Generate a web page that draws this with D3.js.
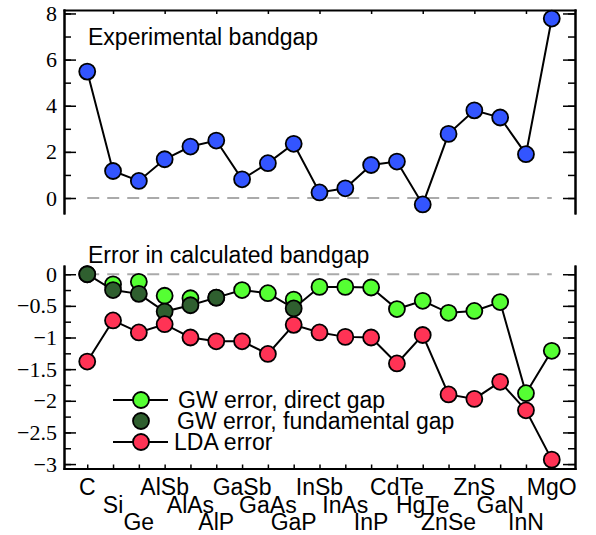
<!DOCTYPE html>
<html>
<head>
<meta charset="utf-8">
<script src="https://cdn.jsdelivr.net/npm/d3@7"></script>
<style>
body { margin: 0; background: #fff; }
.lbl { font-family: "Liberation Sans", Arial, sans-serif; font-size: 23px; fill: #000; }
</style>
</head>
<body>
<div id="chart"></div>
<script>
var materials = ["C","Si","Ge","AlSb","AlAs","AlP","GaSb","GaAs","GaP","InSb","InAs","InP","CdTe","HgTe","ZnSe","ZnS","GaN","InN","MgO"];
// experimental gap (eV)
var expGap = [5.48,1.17,0.74,1.68,2.23,2.49,0.81,1.51,2.35,0.24,0.42,1.43,1.58,-0.28,2.78,3.80,3.49,1.90,7.78];
// errors (eV)
var gwDirect = [0,-0.16,-0.12,-0.34,-0.38,-0.37,-0.25,-0.30,-0.40,-0.20,-0.20,-0.21,-0.55,-0.42,-0.61,-0.58,-0.44,-1.88,-1.21];
var gwFund = [0,-0.25,-0.31,-0.59,-0.49,-0.37,null,null,-0.54,null,null,null,null,null,null,null,null,null,null];
var ldaError = [-1.38,-0.73,-0.92,-0.79,-1.00,-1.06,-1.06,-1.26,-0.80,-0.92,-0.99,-1.00,-1.41,-0.96,-1.90,-1.97,-1.70,-2.15,-2.93];
var topTicks = [0,2,4,6,8];
var topMinor = [0,1,2,3,4,5,6,7,8];
var botTicks = [0,-0.5,-1,-1.5,-2,-2.5,-3];
var botMinor = [0,-0.25,-0.5,-0.75,-1,-1.25,-1.5,-1.75,-2,-2.25,-2.5,-2.75,-3];
var legendNames = ["GW error, direct gap","GW error, fundamental gap","LDA error"];

var colBlue = "#3355ff", colLight = "#55ff33", colDark = "#2f5f2f", colRed = "#ff3355";

var svg = d3.select("#chart").append("svg")
    .attr("width", 596).attr("height", 535);

var x = d3.scaleLinear().domain([-0.9, 18.9]).range([64, 575]);
var yTop = d3.scaleLinear().domain([-0.65, 8.15]).range([213, 10]);
var yBot = d3.scaleLinear().domain([-3.07, 0.13]).range([468.5, 266]);

function fmt(d){ return d < 0 ? "\u2212" + Math.abs(d) : "" + d; }

function styleAxis(g){
    g.attr("font-family", null).attr("font-size", null);
    g.select(".domain").attr("stroke", "#000").attr("stroke-width", 2).attr("stroke-linecap", "square");
    g.selectAll(".tick line").attr("stroke", "#000").attr("stroke-width", 1.5);
    g.selectAll(".tick text")
        .style("font-family", "'Liberation Serif', 'Times New Roman', Times, serif")
        .style("font-size", "22px")
        .attr("fill", "#000");
}

function addAxis(tx, ty, axis){
    svg.append("g")
        .attr("transform", "translate(" + tx + "," + ty + ")")
        .call(axis)
        .call(styleAxis);
}

// top panel frame
addAxis(64, 0, d3.axisLeft(yTop).tickValues(topMinor).tickSize(-7).tickSizeOuter(0).tickFormat(""));
addAxis(64, 0, d3.axisLeft(yTop).tickValues(topTicks).tickSize(-12).tickSizeOuter(0).tickPadding(7).tickFormat(fmt));
addAxis(575, 0, d3.axisRight(yTop).tickValues(topMinor).tickSize(-7).tickSizeOuter(0).tickFormat(""));
addAxis(575, 0, d3.axisRight(yTop).tickValues(topTicks).tickSize(-12).tickSizeOuter(0).tickFormat(""));
addAxis(0, 10, d3.axisTop(x).tickValues(d3.range(1, 19, 2)).tickSize(-4).tickSizeOuter(0).tickFormat(""));

// bottom panel frame
addAxis(64, 0, d3.axisLeft(yBot).tickValues(botMinor).tickSize(-7).tickSizeOuter(0).tickFormat(""));
addAxis(64, 0, d3.axisLeft(yBot).tickValues(botTicks).tickSize(-12).tickSizeOuter(0).tickPadding(7).tickFormat(fmt));
addAxis(575, 0, d3.axisRight(yBot).tickValues(botMinor).tickSize(-7).tickSizeOuter(0).tickFormat(""));
addAxis(575, 0, d3.axisRight(yBot).tickValues(botTicks).tickSize(-12).tickSizeOuter(0).tickFormat(""));
addAxis(0, 468.5, d3.axisBottom(x).tickValues(d3.range(materials.length)).tickSize(-4).tickSizeOuter(0).tickFormat(""));

// material names, staggered in three rows
svg.selectAll("text.mat")
    .data(materials)
    .enter()
    .append("text")
      .attr("class", "lbl mat")
      .attr("x", function(d, i){ return x(i); })
      .attr("y", function(d, i){ return 495 + (i % 3) * 17.5; })
      .attr("text-anchor", "middle")
      .text(function(d){ return d; });

svg.append("text").attr("class", "lbl").attr("x", 88).attr("y", 45).text("Experimental bandgap");
svg.append("text").attr("class", "lbl").attr("x", 88).attr("y", 263).text("Error in calculated bandgap");

// zero lines
[yTop(0), yBot(0)].forEach(function(yy){
    svg.append("line")
        .attr("x1", x(0)).attr("x2", x(18))
        .attr("y1", yy).attr("y2", yy)
        .attr("stroke", "#aaa").attr("stroke-width", 2)
        .attr("stroke-dasharray", "12,8");
});

function drawLine(values, yScale){
    var line = d3.line()
        .defined(function(d){ return d != null; })
        .x(function(d, i){ return x(i); })
        .y(function(d){ return yScale(d); });
    svg.append("path")
        .datum(values)
        .attr("d", line)
        .attr("fill", "none")
        .attr("stroke", "#000")
        .attr("stroke-width", 2);
}

function drawDots(values, yScale, color){
    var pts = values.map(function(v, i){ return {i: i, v: v}; })
        .filter(function(d){ return d.v != null; });
    svg.append("g").selectAll("circle")
        .data(pts)
        .enter()
        .append("circle")
          .attr("cx", function(d){ return x(d.i); })
          .attr("cy", function(d){ return yScale(d.v); })
          .attr("r", 8)
          .attr("fill", color)
          .attr("stroke", "#000")
          .attr("stroke-width", 1.8);
}

drawLine(expGap, yTop);
drawDots(expGap, yTop, colBlue);

// GW line runs through the fundamental gap where there is one
var gwLine = gwDirect.map(function(v, i){ return gwFund[i] != null ? gwFund[i] : v; });
drawLine(gwLine, yBot);
drawDots(gwDirect, yBot, colLight);
drawDots(gwFund, yBot, colDark);
drawLine(ldaError, yBot);
drawDots(ldaError, yBot, colRed);

// legend
var legY = [400, 421, 442], legCol = [colLight, colDark, colRed], legLine = [true, false, true], legX = [178, 177, 174];
legendNames.forEach(function(name, k){
    if (legLine[k])
        svg.append("line").attr("x1", 113).attr("x2", 168)
            .attr("y1", legY[k]).attr("y2", legY[k])
            .attr("stroke", "#000").attr("stroke-width", 2);
    svg.append("circle").attr("cx", 141).attr("cy", legY[k]).attr("r", 8)
        .attr("fill", legCol[k]).attr("stroke", "#000").attr("stroke-width", 1.8);
    svg.append("text").attr("class", "lbl")
        .attr("x", legX[k]).attr("y", legY[k] + 8)
        .text(name);
});
</script>
</body>
</html>
